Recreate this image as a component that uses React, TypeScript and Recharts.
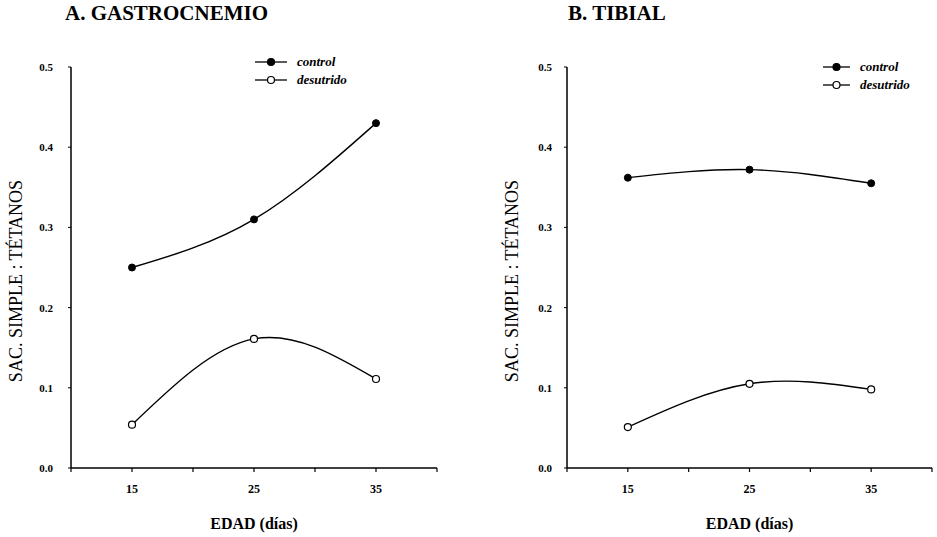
import { LineChart, Line, XAxis, YAxis, Legend, Label } from "recharts";

const edad = [15, 25, 35];
const gastroControl = [0.25, 0.31, 0.43];
const gastroDesutrido = [0.054, 0.161, 0.111];
const tibialControl = [0.362, 0.372, 0.355];
const tibialDesutrido = [0.051, 0.105, 0.098];
const xTicks = [10, 15, 20, 25, 30, 35, 40];
const xLabels = [15, 25, 35];
const yTicks = [0, 0.1, 0.2, 0.3, 0.4, 0.5];
const seriesNames = ["control", "desutrido"];

const SERIF = "'Liberation Serif', 'Times New Roman', serif";

const gastroData = edad.map((e, i) => ({ edad: e, control: gastroControl[i], desutrido: gastroDesutrido[i] }));
const tibialData = edad.map((e, i) => ({ edad: e, control: tibialControl[i], desutrido: tibialDesutrido[i] }));

function LegendBox({ lineW, gap }: { lineW: number; gap: number }) {
  return (
    <div style={{ fontFamily: SERIF, fontStyle: "italic", fontWeight: "bold", fontSize: 13, lineHeight: "18px" }}>
      {seriesNames.map((name, i) => (
        <div key={name} style={{ display: "flex", alignItems: "center", height: 18 }}>
          <svg width={lineW} height={10} style={{ marginRight: gap }}>
            <line x1={0} y1={5} x2={lineW} y2={5} stroke="#000" strokeWidth={1.3} />
            <circle cx={lineW / 2} cy={5} r={3.5} fill={i === 0 ? "#000" : "#fff"} stroke="#000" strokeWidth={1.2} />
          </svg>
          <span>{name}</span>
        </div>
      ))}
    </div>
  );
}

interface PanelProps {
  data: { edad: number; control: number; desutrido: number }[];
  left: number;
  width: number;
  marginLeft: number;
  marginRight: number;
  tickMargin: number;
  yLabelX: number;
  legendLeft: number;
  legendTop: number;
  legendLineW: number;
}

function Panel({ data, left, width, marginLeft, marginRight, tickMargin, yLabelX, legendLeft, legendTop, legendLineW }: PanelProps) {
  const plotLeft = marginLeft + 40;
  const plotRight = width - marginRight;
  return (
    <div style={{ position: "absolute", left, top: 0 }}>
      <LineChart width={width} height={537} data={data} margin={{ top: 67, right: marginRight, bottom: 39, left: marginLeft }}>
        <XAxis
          dataKey="edad"
          type="number"
          domain={[10, 40]}
          ticks={xTicks}
          tickFormatter={(v: number) => (xLabels.includes(v) ? String(v) : "")}
          axisLine={{ stroke: "#000", strokeWidth: 1.5 }}
          tickLine={{ stroke: "#000", strokeWidth: 1.2 }}
          tickSize={4}
          tickMargin={12}
          height={30}
          tick={{ fill: "#000", fontSize: 12, fontWeight: "bold", fontFamily: SERIF }}
        >
          <Label
            content={() => (
              <text x={(plotLeft + plotRight) / 2} y={523} textAnchor="middle" dominantBaseline="central" fontFamily={SERIF} fontSize={16} fontWeight="bold" fill="#000">
                EDAD (días)
              </text>
            )}
          />
        </XAxis>
        <YAxis
          domain={[0, 0.5]}
          ticks={yTicks}
          width={40}
          tickFormatter={(v: number) => v.toFixed(1)}
          axisLine={{ stroke: "#000", strokeWidth: 1.5 }}
          tickLine={{ stroke: "#000", strokeWidth: 1 }}
          tickSize={3}
          tickMargin={tickMargin}
          tick={{ fill: "#000", fontSize: 11, fontWeight: "bold", fontFamily: SERIF }}
        >
          <Label
            content={() => (
              <text x={yLabelX} y={281} transform={`rotate(-90 ${yLabelX} 281)`} textAnchor="middle" dominantBaseline="central" fontFamily={SERIF} fontSize={18} fill="#000">
                SAC. SIMPLE : TÉTANOS
              </text>
            )}
          />
        </YAxis>
        <Legend
          layout="horizontal"
          verticalAlign="middle"
          align="center"
          wrapperStyle={{ left: legendLeft, top: legendTop, width: "auto" }}
          content={() => <LegendBox lineW={legendLineW} gap={10} />}
        />
        <Line type="natural" dataKey="control" stroke="#000" strokeWidth={1.4} dot={{ r: 3.5, fill: "#000", stroke: "#000", strokeWidth: 1 }} isAnimationActive={false} />
        <Line type="natural" dataKey="desutrido" stroke="#000" strokeWidth={1.4} dot={{ r: 3.5, fill: "#fff", stroke: "#000", strokeWidth: 1.2 }} isAnimationActive={false} />
      </LineChart>
    </div>
  );
}

export default function App() {
  return (
    <div style={{ position: "absolute", left: 0, top: 0, width: 937, height: 537, background: "#fff" }}>
      <div style={{ position: "absolute", left: 65, top: 1, fontFamily: SERIF, fontWeight: "bold", fontSize: 21, whiteSpace: "nowrap" }}>
        A. GASTROCNEMIO
      </div>
      <div style={{ position: "absolute", left: 568, top: 1, fontFamily: SERIF, fontWeight: "bold", fontSize: 21, whiteSpace: "nowrap" }}>
        B. TIBIAL
      </div>
      <Panel data={gastroData} left={0} width={460} marginLeft={31} marginRight={23} tickMargin={15} yLabelX={16} legendLeft={255} legendTop={53} legendLineW={32} />
      <Panel data={tibialData} left={457} width={480} marginLeft={70} marginRight={5} tickMargin={12} yLabelX={55} legendLeft={366} legendTop={58} legendLineW={27} />
    </div>
  );
}
